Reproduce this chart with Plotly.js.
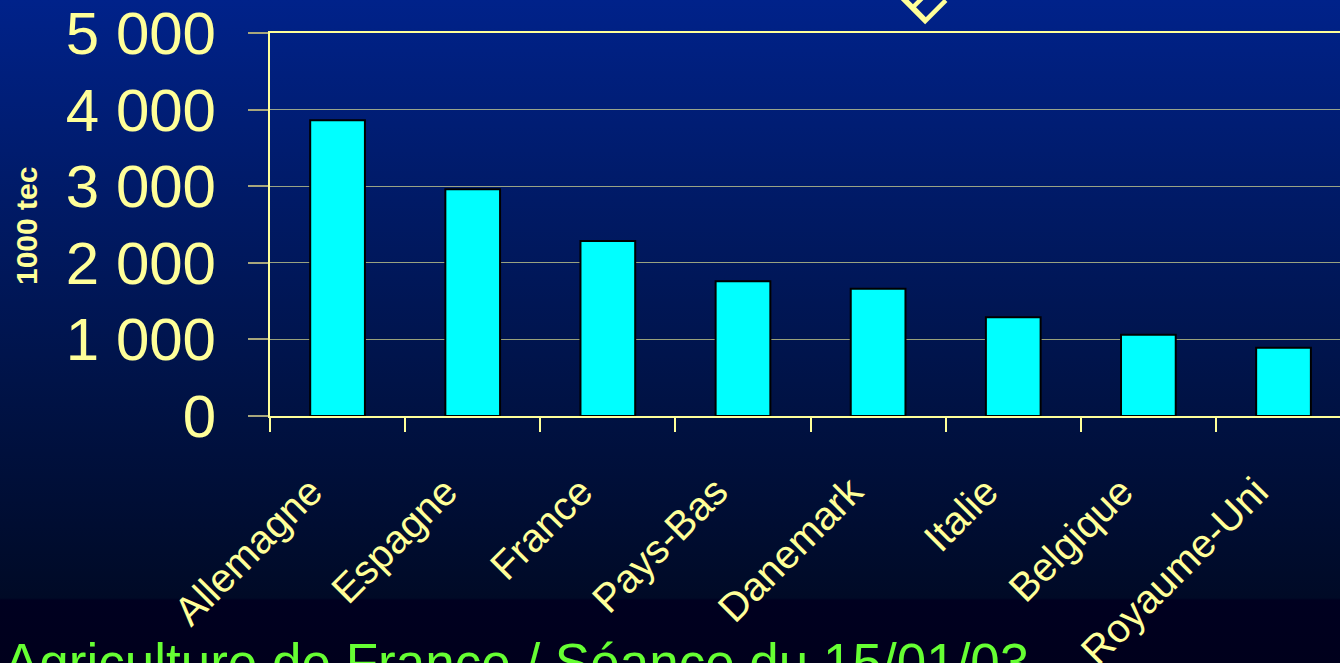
<!DOCTYPE html>
<html>
<head>
<meta charset="utf-8">
<script src="https://cdn.plot.ly/plotly-3.0.1.min.js"></script>
<style>
html,body{margin:0;padding:0;width:1340px;height:663px;overflow:hidden;}
#bg{position:absolute;left:0;top:0;width:1340px;height:663px;
 background:linear-gradient(to bottom,#00228a 0px,#001a66 200px,#001348 380px,#000a26 598px,#000020 600px,#00001c 663px);}
#chart{position:absolute;left:0;top:0;width:1340px;height:663px;}
</style>
</head>
<body>
<div id="bg"></div>
<div id="chart"></div>
<script>
const countries = ['Allemagne','Espagne','France','Pays-Bas','Danemark','Italie','Belgique','Royaume-Uni'];
const production = [3860, 2960, 2285, 1760, 1660, 1290, 1060, 890];
const yTickValues = [0, 1000, 2000, 3000, 4000, 5000];
const yTickLabels = ['0', '1 000', '2 000', '3 000', '4 000', '5 000'];
const yTitle = '1000 tec';
const footerText = 'Agriculture de France / Séance du 15/01/03';
const topText = 'E';

const W = 1340, H = 663, L = 270, T = 33, B = 247;
const pw = W - L, ph = H - T - B;
const px = x => (x - L) / pw;
const py = y => (H - B - y) / ph;

const yellow = '#FFFF99';
const font = 'Liberation Sans, Arial, sans-serif';

const trace = {
  type: 'bar',
  x: countries,
  y: production,
  marker: {color: '#00FFFF', line: {color: '#000000', width: 2}},
  hoverinfo: 'x+y'
};

const layout = {
  width: W, height: H,
  margin: {l: L, r: 0, t: T, b: B, pad: 0},
  paper_bgcolor: 'rgba(0,0,0,0)',
  plot_bgcolor: 'rgba(0,0,0,0)',
  showlegend: false,
  bargap: 0.595,
  font: {family: font, color: yellow},
  xaxis: {
    type: 'category',
    range: [-0.5, 7.418],
    showline: true, linecolor: yellow, linewidth: 2, mirror: true,
    ticks: 'outside', tickson: 'boundaries', ticklen: 14, tickcolor: yellow, tickwidth: 2,
    tickangle: -45,
    tickfont: {family: font, size: 40, color: yellow},
    ticklabelstandoff: 34,
    ticklabelshift: -27,
    showgrid: false, zeroline: false, fixedrange: true
  },
  yaxis: {
    range: [0, 5000],
    tickmode: 'array', tickvals: yTickValues, ticktext: yTickLabels,
    showline: true, linecolor: yellow, linewidth: 2,
    ticks: 'outside', ticklen: 20, tickcolor: '#a8a67c', tickwidth: 2,
    tickfont: {family: font, size: 60, color: yellow},
    ticklabelstandoff: 20,
    showgrid: true, gridcolor: 'rgba(255,255,153,0.6)', gridwidth: 1,
    zeroline: false, fixedrange: true
  },
  annotations: [
    {text: '<b>' + yTitle + '</b>', xref: 'paper', yref: 'paper', x: px(26), y: py(226),
     xanchor: 'center', yanchor: 'middle', textangle: -90, showarrow: false,
     font: {family: font, size: 30, color: yellow}},
    {text: footerText, xref: 'paper', yref: 'paper', x: px(2), y: py(631),
     xanchor: 'left', yanchor: 'top', showarrow: false,
     font: {family: font, size: 53, color: '#66FF33'}},
    {text: topText, xref: 'paper', yref: 'paper', x: px(921), y: py(0),
     xanchor: 'center', yanchor: 'middle', textangle: -45, showarrow: false,
     font: {family: font, size: 58, color: yellow}}
  ]
};

Plotly.newPlot('chart', [trace], layout, {displayModeBar: false, staticPlot: true});
</script>
</body>
</html>
